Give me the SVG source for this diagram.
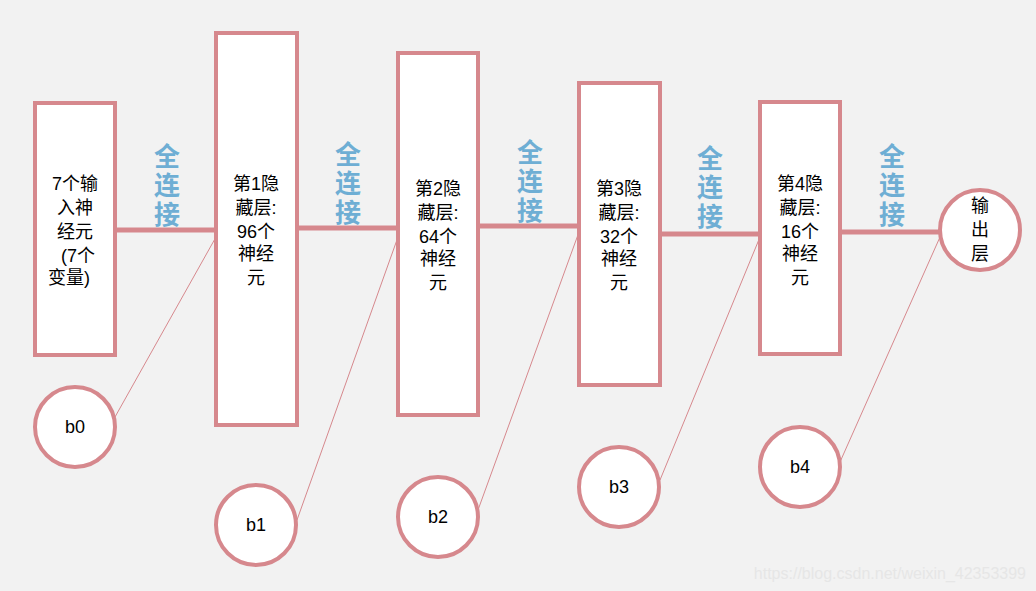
<svg xmlns="http://www.w3.org/2000/svg" width="1036" height="591" viewBox="0 0 1036 591">
<style>
.n{fill:#fff;stroke:#d6888d;stroke-width:4}
.t{font-family:"Liberation Sans","Noto Sans CJK SC",sans-serif;font-size:18px;fill:#000;text-anchor:middle}
.fc{font-family:"Noto Sans CJK SC",sans-serif;font-size:26px;font-weight:bold;fill:#6eaed4;text-anchor:middle}
.thick{stroke:#d6888d;stroke-width:5}
.thin{stroke:#d6888d;stroke-width:1}
</style>
<rect width="1036" height="591" fill="#f2f2f2"/>
<g id="connectors">
<line class="thick" x1="115" y1="230" x2="216" y2="230"/>
<line class="thick" x1="297" y1="228" x2="398" y2="228"/>
<line class="thick" x1="478" y1="226" x2="579" y2="226"/>
<line class="thick" x1="660" y1="234" x2="760" y2="234"/>
<line class="thick" x1="840" y1="232" x2="940" y2="232"/>
<line class="thin" x1="115" y1="417" x2="216" y2="237"/>
<line class="thin" x1="297" y1="520" x2="398" y2="237"/>
<line class="thin" x1="478" y1="510" x2="579" y2="232"/>
<line class="thin" x1="660" y1="480" x2="760" y2="237"/>
<line class="thin" x1="840" y1="462" x2="940" y2="237"/>
<g class="fc">
<text x="167" y="166">全</text><text x="167" y="195">连</text><text x="167" y="224">接</text>
<text x="348" y="164">全</text><text x="348" y="193">连</text><text x="348" y="222">接</text>
<text x="530" y="162">全</text><text x="530" y="191">连</text><text x="530" y="220">接</text>
<text x="710" y="168">全</text><text x="710" y="197">连</text><text x="710" y="226">接</text>
<text x="892" y="166">全</text><text x="892" y="195">连</text><text x="892" y="224">接</text>
</g>
</g>
<g id="input"><rect class="n" x="35" y="103" width="80" height="252"/>
<text class="t"><tspan x="75" y="190">7个输</tspan><tspan x="75" y="214">入神</tspan><tspan x="75" y="238">经元</tspan><tspan x="78" y="262">(7个</tspan><tspan x="69" y="284">变量)</tspan></text></g>
<g id="h1"><rect class="n" x="216" y="33" width="81" height="392"/>
<text class="t"><tspan x="256" y="190">第1隐</tspan><tspan x="256" y="214">藏层:</tspan><tspan x="256" y="238">96个</tspan><tspan x="256" y="260">神经</tspan><tspan x="256" y="284">元</tspan></text></g>
<g id="h2"><rect class="n" x="398" y="53" width="80" height="362"/>
<text class="t"><tspan x="438" y="195">第2隐</tspan><tspan x="438" y="219">藏层:</tspan><tspan x="438" y="243">64个</tspan><tspan x="438" y="265">神经</tspan><tspan x="438" y="289">元</tspan></text></g>
<g id="h3"><rect class="n" x="579" y="83" width="81" height="302"/>
<text class="t"><tspan x="619" y="195">第3隐</tspan><tspan x="619" y="219">藏层:</tspan><tspan x="619" y="243">32个</tspan><tspan x="619" y="265">神经</tspan><tspan x="619" y="289">元</tspan></text></g>
<g id="h4"><rect class="n" x="760" y="102" width="80" height="252"/>
<text class="t"><tspan x="800" y="190">第4隐</tspan><tspan x="800" y="214">藏层:</tspan><tspan x="800" y="238">16个</tspan><tspan x="800" y="260">神经</tspan><tspan x="800" y="284">元</tspan></text></g>
<g id="out"><circle class="n" cx="980" cy="230" r="40"/>
<text class="t"><tspan x="980" y="212">输</tspan><tspan x="980" y="236">出</tspan><tspan x="980" y="260">层</tspan></text></g>
<g id="b0"><circle class="n" cx="75" cy="427" r="40"/><text class="t" x="75" y="433">b0</text></g>
<g id="b1"><circle class="n" cx="256" cy="525" r="40"/><text class="t" x="256" y="531">b1</text></g>
<g id="b2"><circle class="n" cx="438" cy="517" r="40"/><text class="t" x="438" y="523">b2</text></g>
<g id="b3"><circle class="n" cx="619" cy="487" r="40"/><text class="t" x="619" y="493">b3</text></g>
<g id="b4"><circle class="n" cx="800" cy="467" r="40"/><text class="t" x="800" y="473">b4</text></g>
<text x="1026" y="579" font-family="Liberation Sans,sans-serif" font-size="16" fill="#e6e6e6" text-anchor="end">https://blog.csdn.net/weixin_42353399</text>
</svg>
